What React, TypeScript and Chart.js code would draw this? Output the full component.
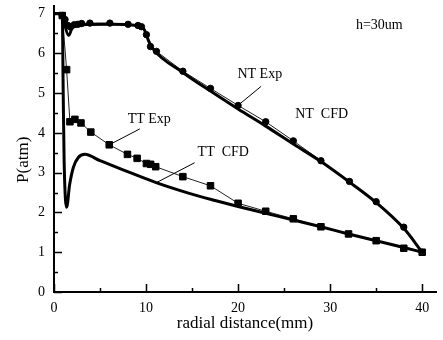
import { useEffect, useRef } from 'react';
import { Chart, registerables } from 'chart.js';

Chart.register(...registerables);

// NT experimental (circles)
const ntExpX = [0.9, 1.2, 1.5, 1.8, 2.2, 2.6, 3.0, 3.9, 6.07, 8.05, 9.13, 9.5, 10.04, 10.48, 11.13, 14, 17, 20, 23, 26, 29, 32.1, 35, 38, 40];
const ntExpY = [6.95, 6.85, 6.7, 6.66, 6.72, 6.73, 6.75, 6.76, 6.76, 6.73, 6.7, 6.67, 6.47, 6.17, 6.05, 5.55, 5.12, 4.69, 4.28, 3.8, 3.3, 2.78, 2.27, 1.63, 1.0];
// NT CFD (thick line)
const ntCfdX = [0, 1.0, 1.2, 1.6, 2.0, 3, 6, 9, 9.8, 10.3, 10.8, 14, 17, 20, 23, 26, 29, 32, 35, 38, 40];
const ntCfdY = [7.0, 7.0, 6.7, 6.45, 6.65, 6.72, 6.73, 6.7, 6.6, 6.3, 6.1, 5.52, 5.05, 4.6, 4.17, 3.72, 3.28, 2.78, 2.25, 1.6, 1.0];
// TT experimental (squares)
const ttExpX = [0.9, 1.37, 1.73, 2.27, 2.93, 4, 6, 7.98, 9.03, 10.04, 10.5, 11.05, 14, 17, 20, 23, 26, 29, 32, 35, 38, 40];
const ttExpY = [6.95, 5.59, 4.28, 4.34, 4.25, 4.02, 3.7, 3.46, 3.36, 3.23, 3.21, 3.15, 2.9, 2.67, 2.23, 2.03, 1.84, 1.64, 1.46, 1.29, 1.1, 1.0];
// TT CFD (thick line)
const ttCfdX = [0, 0.9, 1.0, 1.1, 1.37, 1.7, 2.1, 2.64, 3.36, 5, 7.5, 11.1, 14.7, 17.5, 20, 23, 26, 29, 32, 35, 38, 40];
const ttCfdY = [7.0, 7.0, 5.0, 3.3, 2.13, 2.7, 3.13, 3.38, 3.46, 3.3, 3.07, 2.75, 2.48, 2.3, 2.15, 1.98, 1.81, 1.64, 1.46, 1.29, 1.12, 1.0];

const xMajorTicks = [0, 10, 20, 30, 40];
const xMinorTicks = [5, 15, 25, 35];
const yMajorTicks = [0, 1, 2, 3, 4, 5, 6, 7];
const yMinorTicks = [0.5, 1.5, 2.5, 3.5, 4.5, 5.5, 6.5];

const yTitle = 'P(atm)';
const xTitle = 'radial distance(mm)';

// annotation texts anchored in data coordinates
const labelTexts = ['h=30um', 'NT Exp', 'NT  CFD', 'TT Exp', 'TT  CFD'];
const labelX = [32.8, 19.93, 26.2, 8.0, 15.6];
const labelY = [6.7, 5.47, 4.47, 4.35, 3.5];
const leaderFromX = [22.5, 9.32, 15.28];
const leaderFromY = [5.17, 4.1, 3.25];
const leaderToX = [20.04, 6.0, 11.13];
const leaderToY = [4.7, 3.7, 2.75];

const FONT = "'Liberation Serif', 'Times New Roman', serif";

const zip = (xs: number[], ys: number[]) => xs.map((x, i) => ({ x, y: ys[i] }));

const decorPlugin = {
  id: 'decor',
  afterDraw(chart: any) {
    const { ctx, chartArea } = chart;
    const x = chart.scales.x;
    const y = chart.scales.y;
    ctx.save();
    ctx.strokeStyle = '#000';
    ctx.lineWidth = 1.5;
    ctx.beginPath();
    xMajorTicks.forEach((v) => {
      const p = Math.round(x.getPixelForValue(v)) + 0.5;
      ctx.moveTo(p, chartArea.bottom);
      ctx.lineTo(p, chartArea.bottom - 8);
    });
    xMinorTicks.forEach((v) => {
      const p = Math.round(x.getPixelForValue(v)) + 0.5;
      ctx.moveTo(p, chartArea.bottom);
      ctx.lineTo(p, chartArea.bottom - 4);
    });
    yMajorTicks.forEach((v) => {
      const p = Math.round(y.getPixelForValue(v)) + 0.5;
      ctx.moveTo(chartArea.left, p);
      ctx.lineTo(chartArea.left + 8, p);
    });
    yMinorTicks.forEach((v) => {
      const p = Math.round(y.getPixelForValue(v)) + 0.5;
      ctx.moveTo(chartArea.left, p);
      ctx.lineTo(chartArea.left + 4, p);
    });
    ctx.stroke();

    ctx.lineWidth = 1;
    ctx.beginPath();
    leaderFromX.forEach((fx, i) => {
      ctx.moveTo(x.getPixelForValue(fx), y.getPixelForValue(leaderFromY[i]));
      ctx.lineTo(x.getPixelForValue(leaderToX[i]), y.getPixelForValue(leaderToY[i]));
    });
    ctx.stroke();

    ctx.fillStyle = '#000';
    ctx.font = `14px ${FONT}`;
    ctx.textAlign = 'left';
    ctx.textBaseline = 'middle';
    labelTexts.forEach((t, i) => {
      ctx.fillText(t, x.getPixelForValue(labelX[i]), y.getPixelForValue(labelY[i]));
    });

    // y axis title
    ctx.font = `17px ${FONT}`;
    ctx.textAlign = 'center';
    ctx.save();
    ctx.translate(chartArea.left - 30, (chartArea.top + chartArea.bottom) / 2 + 11);
    ctx.rotate(-Math.PI / 2);
    ctx.fillText(yTitle, 0, 0);
    ctx.restore();
    ctx.restore();
  },
};

export default function App() {
  const ref = useRef<HTMLCanvasElement | null>(null);
  useEffect(() => {
    if (!ref.current) return;
    const chart = new Chart(ref.current, {
      type: 'scatter',
      data: {
        datasets: [
          {
            label: 'NT CFD',
            data: zip(ntCfdX, ntCfdY),
            showLine: true,
            borderColor: '#000',
            borderWidth: 3,
            pointRadius: 0,
            cubicInterpolationMode: 'monotone',
          },
          {
            label: 'TT CFD',
            data: zip(ttCfdX, ttCfdY),
            showLine: true,
            borderColor: '#000',
            borderWidth: 3,
            pointRadius: 0,
            cubicInterpolationMode: 'monotone',
          },
          {
            label: 'NT Exp',
            data: zip(ntExpX, ntExpY),
            showLine: true,
            borderColor: '#222',
            borderWidth: 1,
            pointStyle: 'circle',
            pointRadius: 3.2,
            pointBackgroundColor: '#000',
            pointBorderColor: '#000',
          },
          {
            label: 'TT Exp',
            data: zip(ttExpX, ttExpY),
            showLine: true,
            borderColor: '#222',
            borderWidth: 1,
            pointStyle: 'rect',
            pointRadius: 4.6,
            pointBackgroundColor: '#000',
            pointBorderColor: '#000',
          },
        ],
      },
      options: {
        animation: false,
        responsive: true,
        maintainAspectRatio: false,
        layout: { padding: { top: 4, right: 7, left: 0, bottom: 0 } },
        plugins: { legend: { display: false }, tooltip: { enabled: false } },
        scales: {
          x: {
            type: 'linear',
            min: 0,
            max: 41.5,
            afterFit: (s: any) => { s.height = 48; s.paddingLeft = 0; s.paddingRight = 0; },
            afterBuildTicks: (s: any) => { s.ticks = xMajorTicks.map((v) => ({ value: v })); },
            grid: { display: true, drawOnChartArea: false, drawTicks: false },
            border: { display: true, color: '#000', width: 2 },
            ticks: { color: '#000', padding: 8, font: { family: FONT, size: 14 } },
            title: {
              display: true,
              text: xTitle,
              color: '#000',
              font: { family: FONT, size: 17 },
              padding: { top: 0, bottom: 6 },
            },
          },
          y: {
            type: 'linear',
            min: 0,
            max: 7.2,
            afterFit: (s: any) => { s.width = 54; s.paddingTop = 0; s.paddingBottom = 0; },
            afterBuildTicks: (s: any) => { s.ticks = yMajorTicks.map((v) => ({ value: v })); },
            grid: { display: true, drawOnChartArea: false, drawTicks: false },
            border: { display: true, color: '#000', width: 2 },
            ticks: { color: '#000', padding: 9, font: { family: FONT, size: 14 } },
            title: { display: false },
          },
        },
      },
      plugins: [decorPlugin],
    });
    return () => chart.destroy();
  }, []);
  return (
    <div style={{ position: 'absolute', left: 0, top: 0, width: 443, height: 340, background: '#fff' }}>
      <canvas ref={ref} />
    </div>
  );
}
